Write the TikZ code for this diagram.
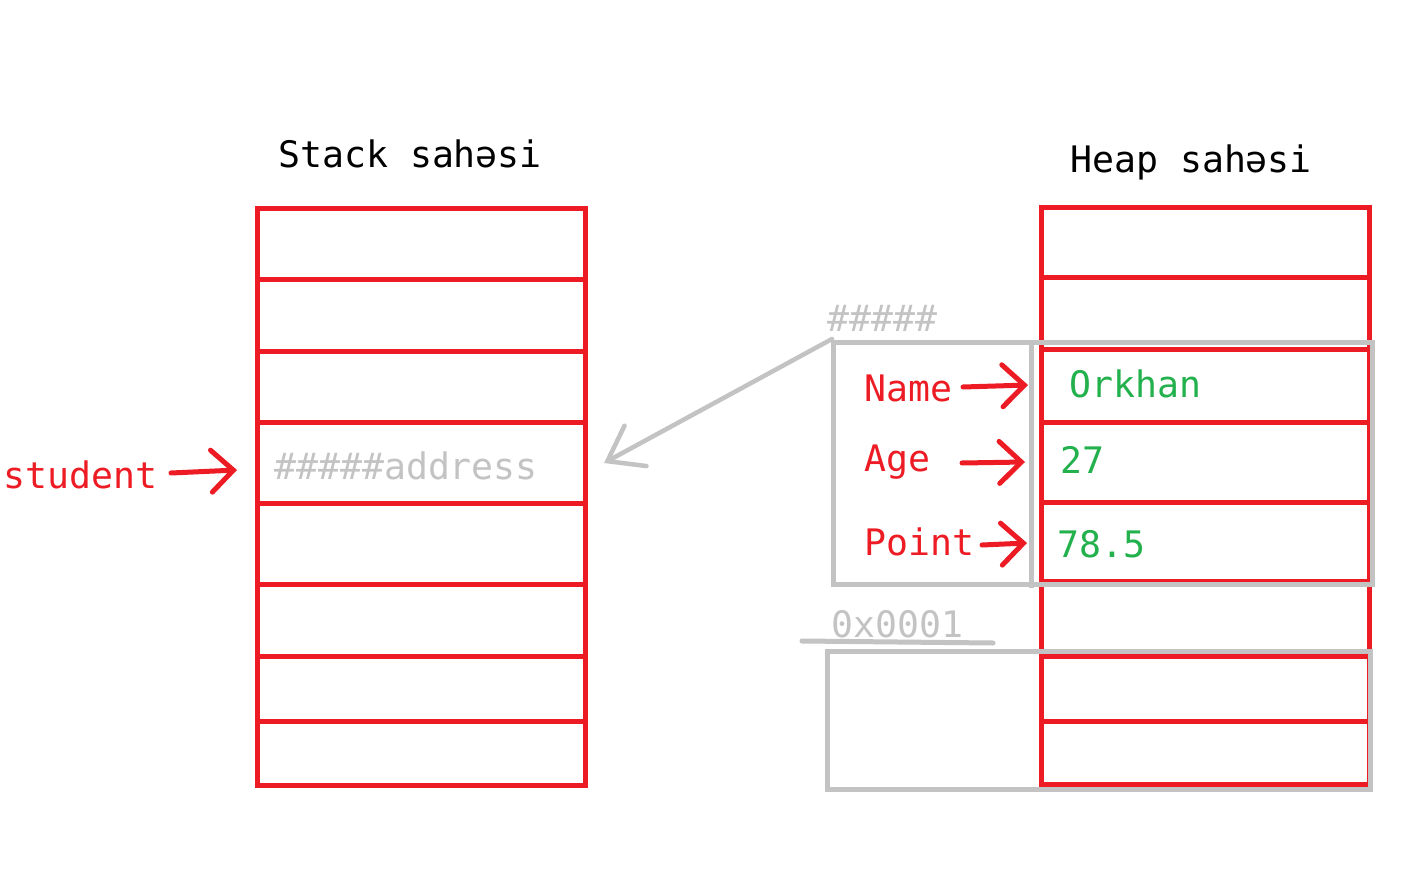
\documentclass[tikz,border=0pt]{standalone}
\usepackage{fontspec}
\setmonofont{DejaVu Sans Mono}
\usetikzlibrary{arrows.meta}
\definecolor{pred}{HTML}{ED1C24}
\definecolor{pgreen}{HTML}{22B14C}
\definecolor{pgray}{HTML}{C3C3C3}
\begin{document}
\begin{tikzpicture}[x=1pt,y=-1pt,
  txt/.style={inner sep=0pt, anchor=base west, font=\ttfamily\fontsize{36.5}{36.5}\selectfont},
  redline/.style={draw=pred, line width=5pt},
  grayline/.style={draw=pgray, line width=5pt},
  redarrow/.style={draw=pred, line width=5pt, line cap=round, -{Straight Barb[length=22pt,width=42pt,line cap=round]}},
  grayarrow/.style={draw=pgray, line width=4.5pt, line cap=round, -{Straight Barb[length=32pt,width=46pt,line cap=round]}}]
\useasboundingbox (0,0) rectangle (1410,874);
\fill[white] (0,0) rectangle (1410,874);
% stack
\draw[redline] (257,209) rectangle (585,785);
\foreach \y in {280,351,422,503,584,656,721} \draw[redline] (257,\y) -- (585,\y);
% heap
\draw[redline] (1041,208) rectangle (1369,784);
\foreach \y in {278,349,422,502,581,656,721} \draw[redline] (1041,\y) -- (1369,\y);
% gray object boxes
\draw[grayline] (833,343) rectangle (1372,584);
\draw[grayline] (1031,343) -- (1031,588);
\draw[grayline] (827,651) rectangle (1370,789);
% titles
\node[txt] (stacktitle) at (278,168) {Stack sahəsi};
\node[txt] (heaptitle) at (1070,173) {Heap sahəsi};
% stack contents
\node[txt, text=pred] (student) at (3,488) {student};
\node[txt, text=pgray] (addr) at (274,479) {\#\#\#\#\#address};
\coordinate (stackcell) at (237,470);
\draw[redarrow] (171,473) -- (stackcell);
% object labels
\node[txt, text=pgray] (hash) at (827,332) {\#\#\#\#\#};
\node[txt, text=pred] (name) at (864,401) {Name};
\node[txt, text=pred] (age) at (864,471) {Age};
\node[txt, text=pred] (point) at (864,555) {Point};
\node[txt, text=pgreen] (orkhan) at (1069,397) {Orkhan};
\node[txt, text=pgreen] (v27) at (1060,473) {27};
\node[txt, text=pgreen] (v785) at (1057,557) {78.5};
\node[txt, text=pgray] (addr0) at (831,637) {0x0001};
\draw[grayline, line cap=round] (802,641) -- (993,643);
% arrows
\coordinate (objcorner) at (832,339);
\coordinate (namecell) at (1028,385);
\coordinate (agecell) at (1025,462);
\coordinate (pointcell) at (1027,543);
\draw[redarrow] (963,387) -- (namecell);
\draw[redarrow] (962,463) -- (agecell);
\draw[redarrow] (982,545) -- (pointcell);
\coordinate (stackaddr) at (604,463);
\draw[grayarrow] (objcorner) -- (stackaddr);
\end{tikzpicture}
\end{document}
